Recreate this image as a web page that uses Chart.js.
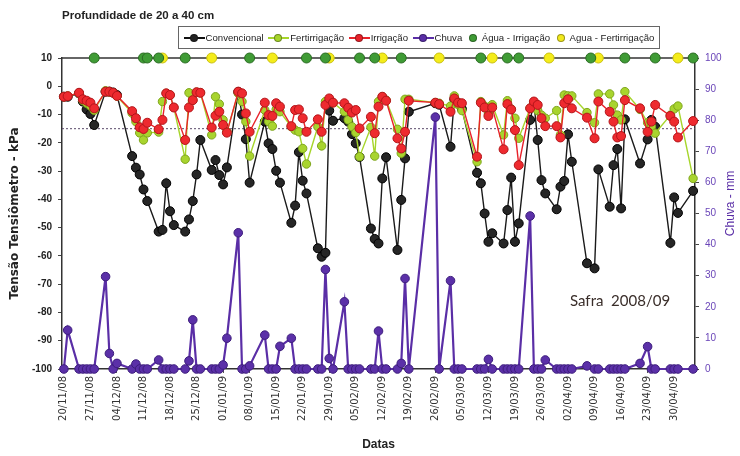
<!DOCTYPE html>
<html>
<head>
<meta charset="utf-8">
<script src="https://cdn.jsdelivr.net/npm/chart.js@4.4.1/dist/chart.umd.min.js"></script>
<style>
  html, body { margin: 0; padding: 0; background: #fff; }
  #wrap { position: relative; width: 740px; height: 456px; }
  #titulo { position: absolute; left: 62px; top: 9px; font: bold 11.5px "Liberation Sans", Arial, sans-serif; color: #222; }
  #legenda { position: absolute; left: 178px; top: 26px; width: 482px; height: 23px; box-sizing: border-box;
             border: 1px solid #666; display: flex; align-items: center; justify-content: space-evenly;
             font: 9.6px "Liberation Sans", Arial, sans-serif; color: #222; }
  .item { display: flex; align-items: center; white-space: nowrap; }
  .sw { position: relative; width: 21px; height: 10px; margin-right: 1px; }
  .sw .ln { position: absolute; left: 0; right: 0; top: 4px; height: 2px; }
  .sw .dot { position: absolute; left: 6px; top: 1px; width: 8px; height: 8px; border-radius: 50%; box-sizing: border-box; border: 1px solid rgba(0,0,0,.35); }
  .sw.so { width: 12px; margin-right: 3px; }
  .sw.so .dot { left: 2px; }
</style>
</head>
<body>
<div id="wrap">
  <canvas id="grafico" width="740" height="456"></canvas>
  <div id="titulo">Profundidade de 20 a 40 cm</div>
  <div id="legenda"></div>
</div>
<script>
// dias após 20/11/08 em que houve leitura dos tensiômetros (e da chuva)
const diasLeitura = [0,1, 4,5,6,7,8, 11,12,13,14, 18,19,20,21,22, 25,26,27,28,29, 32,33,34,35,36,
  39,40,41,42,43, 46,47,48,49, 53,54,55,56,57, 60,61,62,63,64, 67,68,69,70,71, 74,75,76,77,78,
  81,82,83,84,85, 88,89,90,91, 98,99, 102,103,104,105, 109,110,111,112,113, 116,117,118,119,120,
  123,124,125,126,127, 130,131,132,133,134, 138,140,141, 144,145,146,147,148, 152,154,155,156,
  160,161,162, 166];

const convencional = [-3.7,-3.7, -2.5,-5.4,-8.2,-9.8,-13.7, -1.9,-1.9,-2.2,-3.1,
  -24.7,-28.8,-31.2,-36.5,-40.6, -51.4,-50.8,-34.3,-44.2,-49.1, -51.4,-47.1,-40.6,-31.2,-19,
  -29.6,-26.1,-31.4,-34.7,-28.7, -2,-10,-18.7,-34.1, -12.5,-20.2,-22.2,-29.9,-34.1,
  -48.3,-42.2,-23.3,-33.4,-37.9, -57.3,-60.3,-58.9,-8.6,-12.2, -11.3,-12.5,-16.9,-20.2,-25,
  -50.3,-54,-55.6,-32.6,-25.1, -57.9,-40.2,-25.5,-9, -6,-6.5, -21.4,-4.6,-6,-8,
  -30.6,-34.3,-45,-55,-52, -55.6,-43.8,-32.3,-55,-48.5, -11.9,-6,-19,-33.2,-37.9,
  -43.5,-35.5,-33.5,-17,-26.7, -62.6,-64.4,-29.4, -42.6,-27.9,-22.2,-43.2,-11.7,
  -27.3,-18.8,-11.9,-14.3, -55.4,-39.3,-44.8, -37];

const fertirrigacao = [-3.7,-3.4, -2.5,-5,-6,-7,-8.5, -1.6,-2,-2.3,-3.5,
  -9.5,-12.5,-16.5,-19,-16.5, -16.2,-5.4,-2.5,-3.1,-7.5, -25.8,-2.3,-4.9,-2.1,-2.3,
  -17.2,-3.7,-6.3,-11.9,-16.1, -2.5,-5.4,-12.5,-24.7, -8.4,-12.5,-14.1,-8.2,-9,
  -14.3,-15.5,-16.1,-22,-27.5, -14.3,-21.1,-5.4,-4.9,-5.8, -9,-11.9,-14.3,-16.4,-24.9,
  -14.5,-24.7,-5.4,-3.7,-4.9, -15.2,-23.7,-4.6,-4.6, -5.8,-6, -7,-3.4,-6.5,-8.6,
  -26.7,-5.4,-7,-9.5,-6.5, -17.2,-5.1,-8,-11.3,-18.4, -7.8,-5.8,-8.6,-10.2,-11.3,
  -8.6,-17.2,-3.1,-3.4,-3.4, -9.3,-12.9,-2.7, -2.7,-6.6,-10.2,-11.9,-1.9,
  -8.2,-12.9,-14.3,-16.6, -10.2,-8,-7, -32.6];

const irrigacao = [-3.7,-3.5, -2.3,-4.6,-5.1,-5.8,-7.8, -1.9,-1.9,-2.3,-3.4,
  -8.8,-11.3,-14.5,-15.1,-12.9, -15.2,-11.9,-2.5,-3.1,-7.5, -19,-7.5,-4.9,-2.1,-2.3,
  -14.6,-10.4,-9,-13.7,-16.4, -1.9,-2.5,-9.6,-16.1, -5.8,-10.2,-10.5,-6,-7.2,
  -14.1,-8.4,-8.2,-11.3,-16.1, -11.7,-16.1,-6.6,-4.3,-5.8, -6,-7.6,-9.3,-8.4,-14.9,
  -10.8,-16.6,-7.2,-3.7,-5.1, -18.4,-22,-16.1,-5.1, -5.8,-6.3, -9,-4.3,-5.8,-6,
  -24.9,-5.8,-7.5,-10.5,-7.5, -22.3,-6.3,-8.2,-15.5,-27.9, -7.8,-5.4,-6.6,-11.3,-14.1,
  -14.1,-18.1,-6,-4.6,-7.8, -11.1,-18.4,-5.4, -9,-12.5,-18.1,-17.6,-4.9,
  -7.8,-16.1,-12.5,-6.6, -10.5,-12.5,-18.1, -12.3];

// chuva em mm (eixo da direita)
const chuva = [0,12.5, 0,0,0,0,0, 29.7,5,0,1.8, 0,1.6,0,0,0, 2.9,0,0,0,0, 0,2.6,15.8,0,0,
  0,0,0,1.3,9.9, 43.8,0,0,1, 10.9,0,0,0,7.3, 9.9,0,0,0,0, 0,0,32,3.4,0, 21.6,0,0,0,0,
  0,0,12.2,0,0, 0,1.8,29.1,0, 81,0, 28.4,0,0,0, 0,0,0,3.1,0, 0,0,0,0,0,
  49.2,0,0,0,2.9, 0,0,0,0,0, 1,0,0, 0,0,0,0,0, 1.8,7.2,0,0, 0,0,0, 0];

// dias com aplicação de água (marcados no topo, em 10 kPa)
const diasAguaIrrigacao = [8,21,22,25,32,49,64,69,78,82,89,110,117,120,139,148,156,166];
const diasAguaFertirrigacao = [26,39,55,70,84,99,113,128,141,162];
const nivelAgua = 10;
const limiteTensao = -15;

const marcasX = ['20/11/08','27/11/08','04/12/08','11/12/08','18/12/08','25/12/08','01/01/09','08/01/09',
  '15/01/09','22/01/09','29/01/09','05/02/09','12/02/09','19/02/09','26/02/09','05/03/09','12/03/09',
  '19/03/09','26/03/09','02/04/09','09/04/09','16/04/09','23/04/09','30/04/09'];

const diaDe = (s) => {
  const [d, m, a] = s.split('/').map(Number);
  return (Date.UTC(2000 + a, m - 1, d) - Date.UTC(2008, 10, 20)) / 864e5;
};
const pares = (dias, vals) => dias.map((d, i) => ({ x: d, y: vals[i] }));

const ROXO = '#5a2ea6';

const serie = (label, vals, linha, fundo, borda, extra) => ({
  label, data: pares(diasLeitura, vals),
  borderColor: linha, borderWidth: 1.4,
  pointBackgroundColor: fundo, pointBorderColor: borda, pointBorderWidth: 1,
  pointRadius: 4.5, tension: 0, clip: false, ...extra
});

// legenda em html
const itens = [
  ['Convencional', '#111', '#222', true],
  ['Fertirrigação', '#a6d52b', '#a6d52b', true],
  ['Irrigação', '#e8222a', '#e8222a', true],
  ['Chuva', ROXO, ROXO, true],
  ['Água - Irrigação', null, '#3f9b35', false],
  ['Agua - Fertirrigação', null, '#f1e91c', false]
];
document.getElementById('legenda').innerHTML = itens.map(([t, l, p, comLinha]) =>
  `<span class="item"><span class="sw${comLinha ? '' : ' so'}">` +
  (comLinha ? `<span class="ln" style="background:${l}"></span>` : '') +
  `<span class="dot" style="background:${p}"></span></span>${t}</span>`).join('');

const molduraTopo = {
  id: 'molduraTopo',
  beforeDatasetsDraw(chart) {
    const { ctx, chartArea: a } = chart;
    ctx.save();
    ctx.strokeStyle = '#333';
    ctx.lineWidth = 1.5;
    ctx.beginPath();
    ctx.moveTo(a.left, a.top);
    ctx.lineTo(a.right, a.top);
    ctx.stroke();
    ctx.restore();
  },
  afterDraw(chart) {
    const { ctx, chartArea: a } = chart;
    ctx.save();
    // título do eixo da chuva
    ctx.translate(731, (a.top + a.bottom) / 2 - 10);
    ctx.rotate(-Math.PI / 2);
    ctx.textAlign = 'center';
    ctx.textBaseline = 'middle';
    ctx.fillStyle = ROXO;
    ctx.font = '12px "Liberation Sans", Arial, sans-serif';
    ctx.fillText('Chuva - mm', 0, 0);
    ctx.restore();

    ctx.save();
    ctx.fillStyle = '#3a2e2a';
    ctx.font = '15px Lato, "Open Sans", sans-serif';
    ctx.textBaseline = 'alphabetic';
    ctx.fillText('Safra  2008/09', a.right - 125, a.bottom - 63);
    ctx.restore();
  }
};

new Chart(document.getElementById('grafico'), {
  type: 'line',
  data: {
    datasets: [
      { label: 'Água - Irrigação', data: diasAguaIrrigacao.map(d => ({ x: d, y: nivelAgua })),
        showLine: false, pointRadius: 5, pointBackgroundColor: '#3f9b35', pointBorderColor: '#2a6b22',
        pointBorderWidth: 1, clip: false, order: 0 },
      { label: 'Agua - Fertirrigação', data: diasAguaFertirrigacao.map(d => ({ x: d, y: nivelAgua })),
        showLine: false, pointRadius: 5, pointBackgroundColor: '#f4ec1a', pointBorderColor: '#c9bf10',
        pointBorderWidth: 1, clip: false, order: 0 },
      serie('Irrigação', irrigacao, '#e8222a', '#ee2a2f', '#b3151a', { order: 1 }),
      serie('Fertirrigação', fertirrigacao, '#a6d52b', '#a8d42e', '#7ea51c', { order: 2, pointRadius: 4.2 }),
      serie('Convencional', convencional, '#1a1a1a', '#262626', '#000', { order: 3 }),
      { label: 'Chuva', data: pares(diasLeitura, chuva), yAxisID: 'y2',
        borderColor: ROXO, borderWidth: 2.2, pointBackgroundColor: '#5b30a8', pointBorderColor: '#3d1d7c',
        pointBorderWidth: 1, pointRadius: 4.3, tension: 0, clip: false, order: 4 },
      { label: 'limite', data: [{ x: -0.5, y: limiteTensao }, { x: 166.5, y: limiteTensao }],
        borderColor: '#5a4a6a', borderWidth: 1, borderDash: [2, 2], pointRadius: 0, order: 5 }
    ]
  },
  options: {
    responsive: false,
    animation: false,
    layout: { padding: { top: 58, right: 0, left: 0, bottom: 0 } },
    plugins: { legend: { display: false }, tooltip: { enabled: false } },
    scales: {
      x: {
        type: 'linear', min: -0.5, max: 166.5,
        afterBuildTicks: (s) => { s.ticks = marcasX.map(t => ({ value: diaDe(t) })); },
        afterFit: (s) => { s.height = 87; },
        ticks: {
          callback: (v, i) => marcasX[i], autoSkip: false,
          minRotation: 90, maxRotation: 90, padding: 3,
          color: '#333', font: { family: '"DejaVu Sans", Verdana, sans-serif', size: 10 }
        },
        grid: { display: true, drawOnChartArea: false, tickLength: 4, color: '#555' },
        border: { color: '#333', width: 1.5 },
        title: { display: true, text: 'Datas', color: '#222', padding: { top: 0, bottom: 4 },
                 font: { family: '"Liberation Sans", Arial, sans-serif', size: 12, weight: 'bold' } }
      },
      y: {
        position: 'left', min: -100, max: 10,
        afterFit: (s) => { s.width = 62; },
        ticks: { stepSize: 10, padding: 6, color: '#222',
                 font: { family: '"Liberation Sans", Arial, sans-serif', size: 10, weight: 'bold' } },
        grid: { display: true, drawOnChartArea: false, tickLength: 4, color: '#444' },
        border: { color: '#333', width: 1.5 },
        title: { display: true, text: 'Tensão Tensiômetro - kPa', color: '#222', padding: { top: 8, bottom: 0 },
                 font: { family: '"DejaVu Sans", Verdana, sans-serif', size: 12, weight: 'bold' } }
      },
      y2: {
        position: 'right', min: 0, max: 100,
        afterFit: (s) => { s.width = 45; },
        ticks: { stepSize: 10, padding: 6, color: '#6a45b8',
                 font: { family: '"Liberation Sans", Arial, sans-serif', size: 10 } },
        grid: { display: true, drawOnChartArea: false, tickLength: 4, color: '#444' },
        border: { color: '#333', width: 1.5 }
      }
    }
  },
  plugins: [molduraTopo]
});
</script>
</body>
</html>
